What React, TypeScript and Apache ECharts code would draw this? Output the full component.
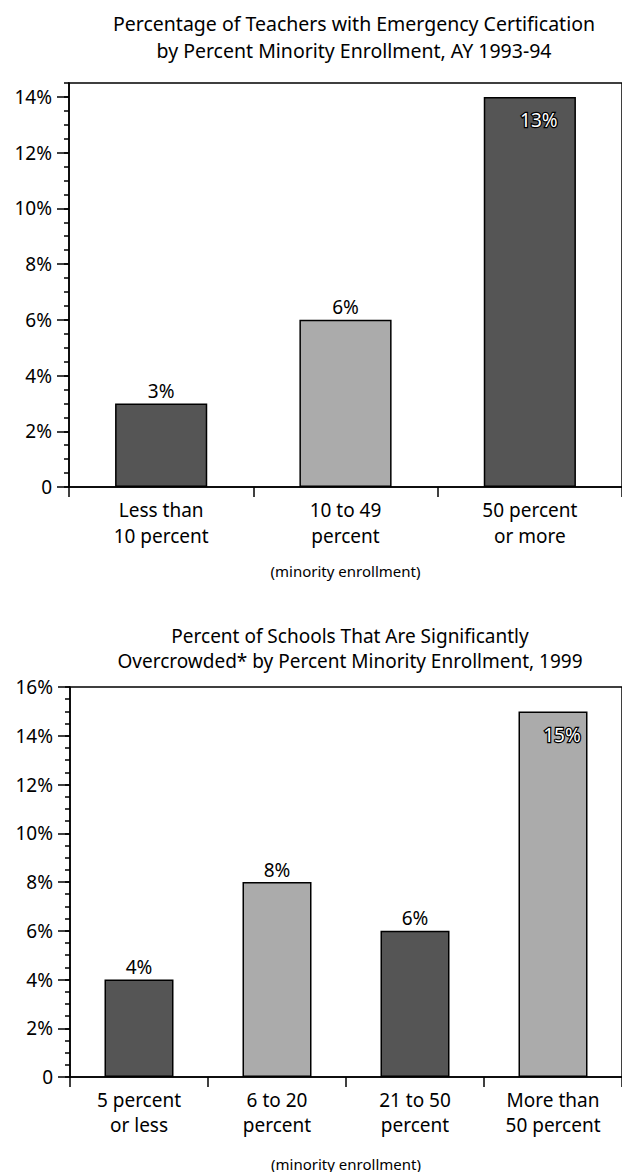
import React, { useEffect, useRef } from "react";
import * as echarts from "echarts";

const topTitle = "Percentage of Teachers with Emergency Certification\nby Percent Minority Enrollment, AY 1993-94";
const topCategories = ["Less than\n10 percent", "10 to 49\npercent", "50 percent\nor more"];
const topValues = [3, 6, 14];
const topLabels = ["3%", "6%", "13%"];
const topLabelInside = [false, false, true];
const topShades = ["#555555", "#ababab", "#555555"];
const topMajorTicks = [0, 2, 4, 6, 8, 10, 12, 14];

const bottomTitle = "Percent of Schools That Are Significantly\nOvercrowded* by Percent Minority Enrollment, 1999";
const bottomCategories = ["5 percent\nor less", "6 to 20\npercent", "21 to 50\npercent", "More than\n50 percent"];
const bottomValues = [4, 8, 6, 15];
const bottomLabels = ["4%", "8%", "6%", "15%"];
const bottomLabelInside = [false, false, false, true];
const bottomShades = ["#555555", "#ababab", "#555555", "#ababab"];
const bottomMajorTicks = [0, 2, 4, 6, 8, 10, 12, 14, 16];

const axisName = "(minority enrollment)";
const FONT = "Noto Sans";

const pct = (v: number) => (v === 0 ? "0" : `${v}%`);

function buildData(values: number[], labels: string[], inside: boolean[], shades: string[]) {
  return values.map((v, i) => ({
    value: v,
    itemStyle: { color: shades[i], borderColor: "#000", borderWidth: 1.5 },
    label: inside[i]
      ? {
          show: true,
          position: "insideTop",
          offset: [9, 9],
          formatter: labels[i],
          color: "#fff",
          textBorderColor: "#000",
          textBorderWidth: 2.5,
          fontSize: 19,
          fontFamily: FONT,
        }
      : {
          show: true,
          position: "top",
          distance: 3,
          formatter: labels[i],
          color: "#000",
          fontSize: 19,
          fontFamily: FONT,
        },
  }));
}

export default function App() {
  const ref = useRef<HTMLDivElement>(null);

  useEffect(() => {
    if (!ref.current) return;
    const chart = echarts.init(ref.current, undefined, { renderer: "svg" });

    const axisLine = { show: true, lineStyle: { color: "#000", width: 1.5 } };
    const xAxisCommon = (gridIndex: number, data: string[], nameGap: number, lineHeight: number) => ({
      type: "category",
      gridIndex,
      data,
      axisLine,
      axisTick: { show: true, length: 10, lineStyle: { color: "#000", width: 1.5 } },
      axisLabel: {
        color: "#000",
        fontSize: 19,
        fontFamily: FONT,
        lineHeight,
        margin: 10,
        interval: 0,
      },
      splitLine: { show: false },
      name: axisName,
      nameLocation: "middle",
      nameGap,
      nameTextStyle: { color: "#000", fontSize: 15, fontFamily: FONT },
    });
    const yMajor = (gridIndex: number, max: number, ticks: number[]) => ({
      type: "value",
      gridIndex,
      position: "left",
      min: 0,
      max,
      interval: 2,
      axisLine,
      axisTick: { show: true, length: 12, customValues: ticks, lineStyle: { color: "#000", width: 1.5 } },
      axisLabel: {
        customValues: ticks,
        formatter: (v: number) => pct(v),
        color: "#000",
        fontSize: 19,
        fontFamily: FONT,
        margin: 17,
      },
      splitLine: { show: false },
    });
    const yMinor = (gridIndex: number, max: number) => ({
      type: "value",
      gridIndex,
      position: "left",
      min: 0,
      max,
      interval: 0.5,
      axisLine: { show: false },
      axisTick: { show: true, length: 5, lineStyle: { color: "#000", width: 1.5 } },
      axisLabel: { show: false },
      splitLine: { show: false },
    });

    chart.setOption({
      animation: false,
      backgroundColor: "#fff",
      textStyle: { fontFamily: FONT },
      graphic: [
        {
          type: "text",
          x: 354,
          y: 10,
          style: {
            text: topTitle,
            textAlign: "center",
            fill: "#000",
            fontSize: 19.5,
            fontFamily: FONT,
            lineHeight: 27,
          },
        },
        {
          type: "text",
          x: 350,
          y: 623,
          style: {
            text: bottomTitle,
            textAlign: "center",
            fill: "#000",
            fontSize: 19,
            fontFamily: FONT,
            lineHeight: 25,
          },
        },
      ],
      grid: [
        { left: 69, top: 83, width: 557, height: 404, show: true, borderColor: "#000", borderWidth: 1.5 },
        { left: 70, top: 687, width: 558, height: 391, show: true, borderColor: "#000", borderWidth: 1.5 },
      ],
      xAxis: [xAxisCommon(0, topCategories, 76, 26), xAxisCommon(1, bottomCategories, 79, 25)],
      yAxis: [
        yMajor(0, 14.5, topMajorTicks),
        yMinor(0, 14.5),
        yMajor(1, 16, bottomMajorTicks),
        yMinor(1, 16),
      ],
      series: [
        {
          type: "bar",
          xAxisIndex: 0,
          yAxisIndex: 0,
          barWidth: "50%",
          data: buildData(topValues, topLabels, topLabelInside, topShades),
        },
        {
          type: "bar",
          xAxisIndex: 1,
          yAxisIndex: 2,
          barWidth: "50%",
          data: buildData(bottomValues, bottomLabels, bottomLabelInside, bottomShades),
        },
      ],
    });

    return () => chart.dispose();
  }, []);

  return (
    <div
      ref={ref}
      style={{ position: "absolute", left: 0, top: 0, width: 622, height: 1172 }}
    />
  );
}
